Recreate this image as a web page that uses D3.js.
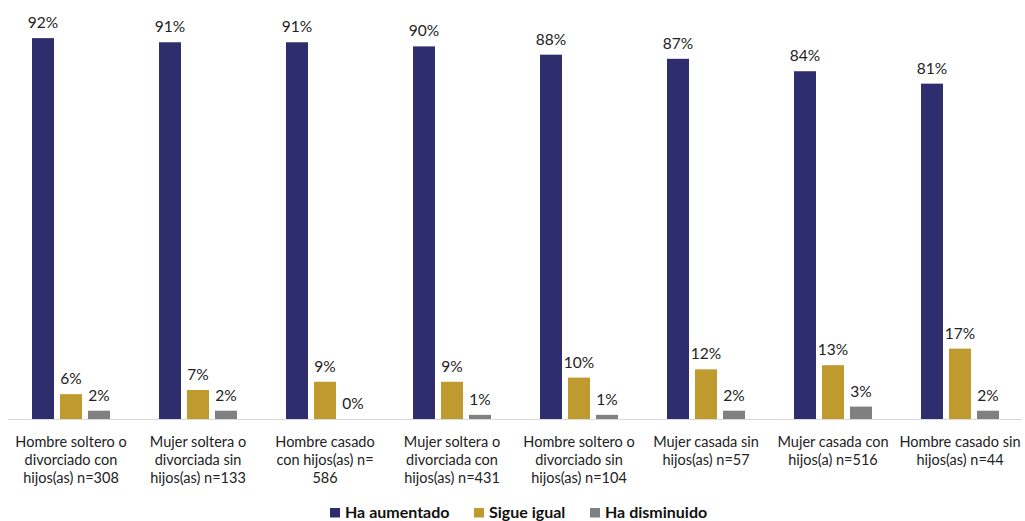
<!DOCTYPE html>
<html><head><meta charset="utf-8">
<script src="https://cdn.jsdelivr.net/npm/d3@7"></script>
<style>body{margin:0;background:#fff}svg{display:block;font-family:Lato,"Open Sans",sans-serif}</style>
</head><body><svg id="c" width="1025" height="521"></svg>
<script>
const categories = [
  ["Hombre soltero o","divorciado con","hijos(as) n=308"],
  ["Mujer soltera o","divorciada sin","hijos(as) n=133"],
  ["Hombre casado","con hijos(as) n=","586"],
  ["Mujer soltera o","divorciada con","hijos(as) n=431"],
  ["Hombre soltero o","divorciado sin","hijos(as) n=104"],
  ["Mujer casada sin","hijos(as) n=57"],
  ["Mujer casada con","hijos(a) n=516"],
  ["Hombre casado sin","hijos(as) n=44"]
];
const seriesNames = ["Ha aumentado","Sigue igual","Ha disminuido"];
const haAumentado = [92,91,91,90,88,87,84,81];
const sigueIgual = [6,7,9,9,10,12,13,17];
const haDisminuido = [2,2,0,1,1,2,3,2];
const colors = ["#2E2D6E","#BF9A2E","#808080"];

(function(){
const series = [haAumentado, sigueIgual, haDisminuido];
const svg = d3.select("#c");
const left = 7.5, right = 1023.5, base = 419, topY = 5;
const x = d3.scaleBand().domain(d3.range(categories.length)).range([left,right]).paddingInner(0).paddingOuter(0);
const y = d3.scaleLinear().domain([0,100]).range([base, topY]);
const bw = 22, gap = 6;
const inner = d3.scaleBand().domain([0,1,2]).range([0, 3*bw+2*gap]).paddingInner(gap/(bw+gap)).paddingOuter(0);

svg.append("line").attr("x1",8).attr("x2",1022).attr("y1",base+0.5).attr("y2",base+0.5)
  .attr("stroke","#d9d9d9").attr("stroke-width",1);

categories.forEach((c,i)=>{
  const g = svg.append("g").attr("transform",`translate(${x(i)+x.bandwidth()/2-(3*bw+2*gap)/2},0)`);
  series.forEach((s,k)=>{
    const v = s[i];
    g.append("rect").attr("x",inner(k)).attr("width",inner.bandwidth())
      .attr("y",y(v)).attr("height",base-y(v)).attr("fill",colors[k]);
    g.append("text").attr("x",inner(k)+inner.bandwidth()/2).attr("y",y(v)-10)
      .attr("text-anchor","middle").attr("font-size",15.5).attr("fill","#222").text(v+"%");
  });
  const t = svg.append("text").attr("text-anchor","middle").attr("font-size",14.5).attr("fill","#222");
  c.forEach((line,j)=>{
    t.append("tspan").attr("x",x(i)+x.bandwidth()/2).attr("y",447+j*18).text(line);
  });
});

const legX = [330,474,590];
seriesNames.forEach((n,k)=>{
  svg.append("rect").attr("x",legX[k]).attr("y",508).attr("width",10).attr("height",9.5).attr("fill",colors[k]);
  svg.append("text").attr("x",legX[k]+15).attr("y",517.5).attr("font-size",16).attr("font-weight","bold")
    .attr("fill","#111").text(n);
});
})();
</script></body></html>
